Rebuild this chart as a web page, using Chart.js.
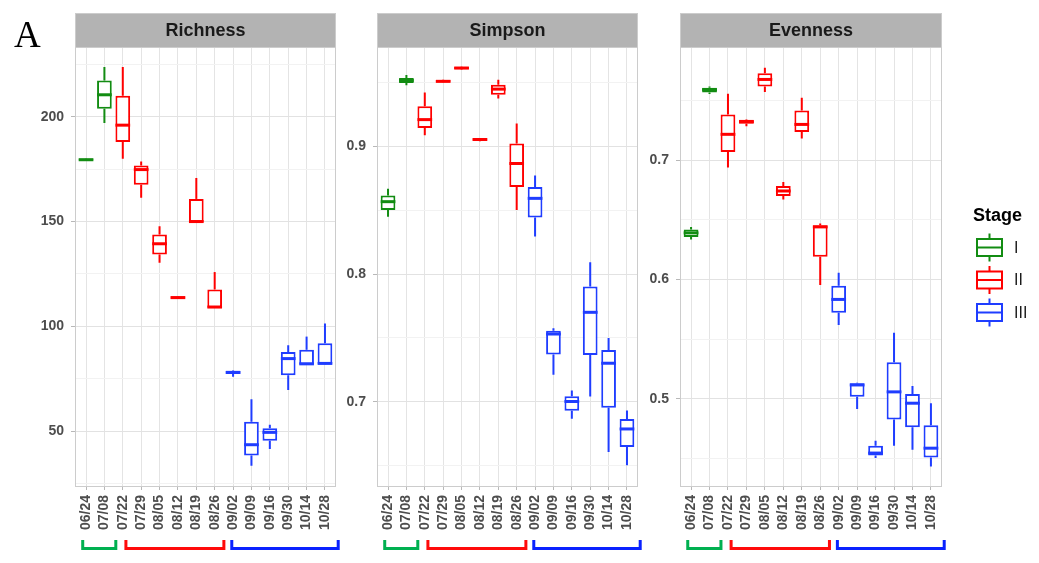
<!DOCTYPE html>
<html>
<head>
<meta charset="utf-8">
<script src="https://cdn.jsdelivr.net/npm/chart.js@4.4.1/dist/chart.umd.min.js"></script>
<style>
html, body { margin: 0; padding: 0; background: #fff; }
#wrap { position: relative; width: 1039px; height: 563px; overflow: hidden; }
#wrap canvas { position: absolute; top: 0; }
#tag { position: absolute; left: 14px; top: 16px; font: 37px/37px 'Liberation Serif', 'Times New Roman', serif; color: #000; }
</style>
</head>
<body>
<div id="wrap">
  <canvas id="rich" width="329" height="563" style="left:15px"></canvas>
  <canvas id="simp" width="329" height="563" style="left:317px"></canvas>
  <canvas id="even" width="419" height="563" style="left:620px"></canvas>
  <div id="tag">A</div>
</div>
<script>
// sampling dates and their stage
const dates = ['06/24', '07/08', '07/22', '07/29', '08/05', '08/12', '08/19', '08/26', '09/02', '09/09', '09/16', '09/30', '10/14', '10/28'];
const stages = ['I', 'I', 'II', 'II', 'II', 'II', 'II', 'II', 'III', 'III', 'III', 'III', 'III', 'III'];
const stageNames = ['I', 'II', 'III'];

// Richness: whisker low, Q1, median, Q3, whisker high
const richLo  = [179.0, 197.0, 180.0, 161.3, 130.3, 113.0, 149.7, 108.9, 75.9, 33.5, 41.5, 69.6, 81.8, 82.0];
const richQ1  = [179.1, 203.8, 188.0, 167.6, 134.3, 113.1, 149.7, 108.9, 77.2, 38.3, 45.4, 76.7, 81.8, 81.9];
const richMed = [179.5, 210.5, 196.0, 174.8, 139.4, 113.7, 150.0, 109.2, 78.0, 43.5, 49.4, 84.6, 82.1, 82.3];
const richQ3  = [180.1, 217.3, 210.0, 176.7, 143.8, 114.3, 160.8, 117.6, 78.8, 54.5, 51.3, 87.8, 88.8, 91.9];
const richHi  = [180.2, 223.7, 223.7, 178.7, 147.8, 114.5, 170.8, 125.9, 79.0, 65.2, 53.0, 91.0, 95.1, 101.3];

// Simpson
const simpLo  = [0.8450, 0.9480, 0.9088, 0.9500, 0.9602, 0.9042, 0.9377, 0.8502, 0.8295, 0.7211, 0.6867, 0.7041, 0.6607, 0.6502];
const simpQ1  = [0.8502, 0.9498, 0.9146, 0.9502, 0.9605, 0.9045, 0.9406, 0.8682, 0.8443, 0.7370, 0.6930, 0.7367, 0.6953, 0.6646];
const simpMed = [0.8568, 0.9518, 0.9211, 0.9511, 0.9615, 0.9055, 0.9450, 0.8867, 0.8594, 0.7531, 0.7002, 0.7701, 0.7302, 0.6787];
const simpQ3  = [0.8617, 0.9537, 0.9315, 0.9521, 0.9625, 0.9065, 0.9484, 0.9023, 0.8682, 0.7557, 0.7044, 0.7904, 0.7406, 0.6865];
const simpHi  = [0.8670, 0.9560, 0.9424, 0.9523, 0.9627, 0.9067, 0.9523, 0.9180, 0.8773, 0.7576, 0.7088, 0.8094, 0.7500, 0.6932];

// Evenness
const evenLo  = [0.6336, 0.7555, 0.6939, 0.7285, 0.7572, 0.6671, 0.7182, 0.5954, 0.5619, 0.4916, 0.4504, 0.4607, 0.4573, 0.4433];
const evenQ1  = [0.6358, 0.7569, 0.7069, 0.7307, 0.7619, 0.6701, 0.7237, 0.6191, 0.5722, 0.5019, 0.4526, 0.4827, 0.4763, 0.4509];
const evenMed = [0.6392, 0.7592, 0.7218, 0.7324, 0.7678, 0.6743, 0.7301, 0.6442, 0.5834, 0.5117, 0.4546, 0.5059, 0.4964, 0.4587];
const evenQ3  = [0.6420, 0.7608, 0.7385, 0.7340, 0.7731, 0.6785, 0.7418, 0.6456, 0.5948, 0.5131, 0.4607, 0.5307, 0.5042, 0.4780];
const evenHi  = [0.6442, 0.7619, 0.7558, 0.7345, 0.7776, 0.6818, 0.7525, 0.6470, 0.6057, 0.5135, 0.4649, 0.5555, 0.5109, 0.4964];

// y ticks (major with labels, minor grid only)
const richTicks = [50, 100, 150, 200];
const richTickLabels = ['50', '100', '150', '200'];
const richMinor = [25, 75, 125, 175, 225];
const simpTicks = [0.7, 0.8, 0.9];
const simpTickLabels = ['0.7', '0.8', '0.9'];
const simpMinor = [0.65, 0.75, 0.85, 0.95];
const evenTicks = [0.5, 0.6, 0.7];
const evenTickLabels = ['0.5', '0.6', '0.7'];
const evenMinor = [0.45, 0.55, 0.65, 0.75];

const stageColors = { I: '#128c12', II: '#ff0000', III: '#1f3dff' };
const bracketColors = { I: '#00b050', II: '#ff0a0a', III: '#0a22ff' };
// stage brackets under the x labels, in category units
const bracketSpans = { I: [-0.18, 1.62], II: [2.17, 7.5], III: [7.93, 13.72] };

const FONT = "'Liberation Sans', Arial, sans-serif";

const boxplotPlugin = {
    id: 'boxplot',
    beforeDraw(chart, args, opts) {
        // grey facet strip
        const { ctx, chartArea: a } = chart;
        ctx.save();
        ctx.fillStyle = '#b3b3b3';
        ctx.fillRect(a.left, 13, a.right - a.left, a.top - 13);
        ctx.fillStyle = '#1a1a1a';
        ctx.font = 'bold 18px ' + FONT;
        ctx.textAlign = 'center';
        ctx.textBaseline = 'middle';
        ctx.fillText(opts.title, (a.left + a.right) / 2, 31);
        ctx.restore();
    },
    afterDatasetsDraw(chart, args, opts) {
        const { ctx, chartArea: a } = chart;
        const y = chart.scales.y;
        const meta = chart.getDatasetMeta(0);
        ctx.save();
        meta.data.forEach((bar, i) => {
            const col = stageColors[stages[i]];
            ctx.strokeStyle = col;
            ctx.lineWidth = 2;
            ctx.beginPath();
            ctx.moveTo(bar.x, y.getPixelForValue(opts.hi[i]));
            ctx.lineTo(bar.x, y.getPixelForValue(opts.q3[i]));
            ctx.moveTo(bar.x, y.getPixelForValue(opts.q1[i]));
            ctx.lineTo(bar.x, y.getPixelForValue(opts.lo[i]));
            ctx.stroke();
            ctx.lineWidth = 3;
            const ym = y.getPixelForValue(opts.med[i]);
            ctx.beginPath();
            ctx.moveTo(bar.x - bar.width / 2, ym);
            ctx.lineTo(bar.x + bar.width / 2, ym);
            ctx.stroke();
        });
        // panel + strip border
        ctx.strokeStyle = '#cccccc';
        ctx.lineWidth = 1;
        ctx.strokeRect(Math.round(a.left) + 0.5, 13.5, Math.round(a.right - a.left) - 1, Math.round(a.bottom) - 13);
        ctx.beginPath();
        ctx.moveTo(a.left, Math.round(a.top) + 0.5);
        ctx.lineTo(a.right, Math.round(a.top) + 0.5);
        ctx.stroke();
        ctx.restore();
    },
    afterDraw(chart, args, opts) {
        const { ctx } = chart;
        const x = chart.scales.x;
        ctx.save();
        ctx.lineWidth = 3;
        stageNames.forEach(s => {
            const x0 = x.getPixelForValue(bracketSpans[s][0]);
            const x1 = x.getPixelForValue(bracketSpans[s][1]);
            ctx.strokeStyle = bracketColors[s];
            ctx.beginPath();
            ctx.moveTo(x0, 540);
            ctx.lineTo(x0, 548.5);
            ctx.lineTo(x1, 548.5);
            ctx.lineTo(x1, 540);
            ctx.stroke();
        });
        if (opts.legend) {
            const off = opts.canvasLeft;
            ctx.fillStyle = '#000';
            ctx.font = 'bold 18px ' + FONT;
            ctx.textAlign = 'left';
            ctx.textBaseline = 'alphabetic';
            ctx.fillText('Stage', 973 - off, 221);
            const keyY = [247.5, 280, 312.5];
            stageNames.forEach((s, k) => {
                const cy = keyY[k];
                const bx = 977 - off;
                ctx.strokeStyle = stageColors[s];
                ctx.lineWidth = 2;
                ctx.beginPath();
                ctx.moveTo(bx + 12.5, cy - 14);
                ctx.lineTo(bx + 12.5, cy - 8.5);
                ctx.moveTo(bx + 12.5, cy + 8.5);
                ctx.lineTo(bx + 12.5, cy + 14);
                ctx.stroke();
                ctx.strokeRect(bx, cy - 8.5, 25, 17);
                ctx.beginPath();
                ctx.moveTo(bx, cy);
                ctx.lineTo(bx + 25, cy);
                ctx.stroke();
                ctx.fillStyle = '#1a1a1a';
                ctx.font = '16px ' + FONT;
                ctx.textBaseline = 'middle';
                ctx.fillText(s, 1014 - off, cy + 1);
            });
        }
        ctx.restore();
    }
};

function makePanel(id, title, lo, q1, med, q3, hi, yMin, yMax, ticks, tickLabels, minor, rightPad, legend, canvasLeft) {
    const allTicks = ticks.concat(minor).sort((a, b) => a - b);
    return new Chart(document.getElementById(id), {
        type: 'bar',
        data: {
            datasets: [{
                data: dates.map((d, i) => ({ x: i, y: [q1[i], q3[i]] })),
                backgroundColor: '#ffffff',
                borderColor: stages.map(s => stageColors[s]),
                borderWidth: 2,
                borderSkipped: false,
                barPercentage: 0.8,
                categoryPercentage: 1
            }]
        },
        options: {
            responsive: false,
            animation: false,
            layout: { padding: { top: 47, right: rightPad, left: 0, bottom: 0 } },
            plugins: {
                legend: { display: false },
                tooltip: { enabled: false },
                boxplot: { title, lo, q1, med, q3, hi, legend, canvasLeft }
            },
            scales: {
                x: {
                    type: 'linear',
                    offset: false,
                    min: -0.6,
                    max: 13.6,
                    afterBuildTicks: s => { s.ticks = dates.map((d, i) => ({ value: i })); },
                    afterFit: s => { s.height = 77; s.paddingLeft = 0; s.paddingRight = 0; },
                    ticks: {
                        autoSkip: false,
                        minRotation: 90,
                        maxRotation: 90,
                        padding: 5,
                        color: '#4d4d4d',
                        font: { family: FONT, size: 14, weight: 'bold' },
                        callback: v => dates[v]
                    },
                    grid: { offset: false, color: '#e4e4e4', tickColor: '#b8b8b8', tickLength: 4 },
                    border: { display: false }
                },
                y: {
                    min: yMin,
                    max: yMax,
                    afterBuildTicks: s => { s.ticks = allTicks.map(v => ({ value: v })); },
                    afterFit: s => { s.width = 60; },
                    ticks: {
                        padding: 7,
                        color: '#4d4d4d',
                        font: { family: FONT, size: 14, weight: 'bold' },
                        callback: v => {
                            const k = ticks.indexOf(v);
                            return k >= 0 ? tickLabels[k] : '';
                        }
                    },
                    grid: {
                        color: c => ticks.includes(c.tick.value) ? '#e2e2e2' : '#f2f2f2',
                        tickColor: c => ticks.includes(c.tick.value) ? '#b8b8b8' : 'rgba(0,0,0,0)',
                        tickLength: 4
                    },
                    border: { display: false }
                }
            }
        },
        plugins: [boxplotPlugin]
    });
}

makePanel('rich', 'Richness', richLo, richQ1, richMed, richQ3, richHi, 23.8, 233.3,
    richTicks, richTickLabels, richMinor, 8, false, 15);
makePanel('simp', 'Simpson', simpLo, simpQ1, simpMed, simpQ3, simpHi, 0.634, 0.978,
    simpTicks, simpTickLabels, simpMinor, 8, false, 317);
makePanel('even', 'Evenness', evenLo, evenQ1, evenMed, evenQ3, evenHi, 0.427, 0.795,
    evenTicks, evenTickLabels, evenMinor, 97, true, 620);
</script>
</body>
</html>
